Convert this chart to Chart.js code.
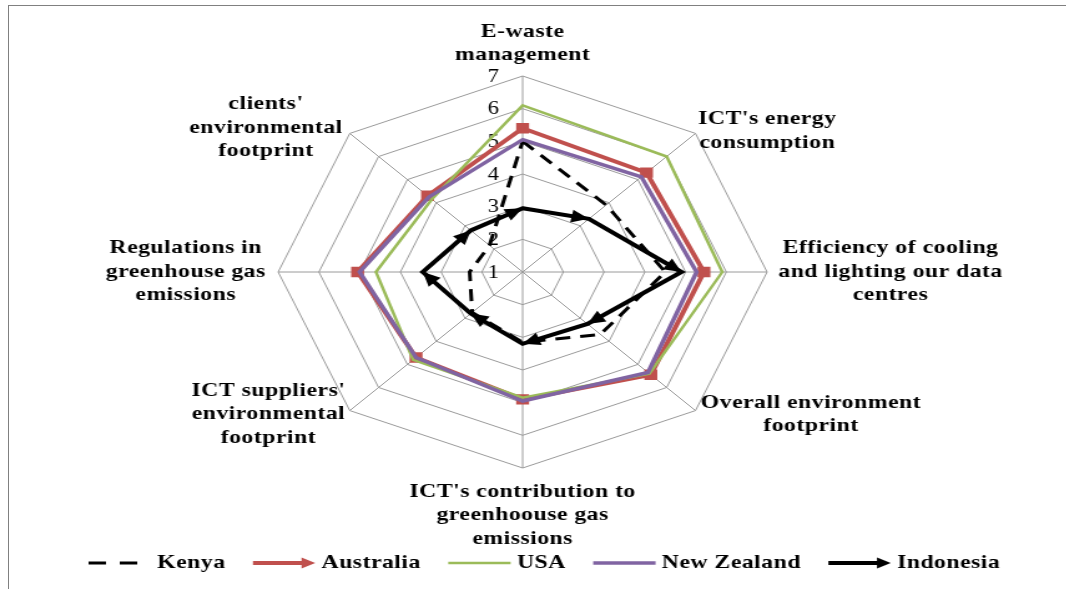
<!DOCTYPE html>
<html><head><meta charset="utf-8">
<script src="https://cdn.jsdelivr.net/npm/chart.js"></script>
<style>
html,body{margin:0;padding:0;background:#fff;overflow:hidden;}
#wrap{position:absolute;left:0;top:0;width:1066px;height:589px;overflow:hidden;background:#fff;}
#frame{position:absolute;left:8px;top:5px;width:1200px;height:800px;border-top:1px solid #808080;border-left:1px solid #808080;}
#c{position:absolute;left:0;top:0;transform-origin:0 0;transform:scaleX(1.2473);}
</style></head><body>
<div id="wrap"><div id="frame"></div><canvas id="c" width="855" height="589"></canvas></div>
<script>
const categories = [
  ['E-waste', 'management'],
  ["ICT's energy", 'consumption'],
  ['Efficiency of cooling', 'and lighting our data', 'centres'],
  ['Overall environment', 'footprint'],
  ["ICT's contribution to", 'greenhoouse gas', 'emissions'],
  ["ICT suppliers'", 'environmental', 'footprint'],
  ['Regulations in', 'greenhouse gas', 'emissions'],
  ["clients'", 'environmental', 'footprint']
];
const seriesNames = ['Kenya', 'Australia', 'USA', 'New Zealand', 'Indonesia'];
const kenya      = [5.0, 3.9, 4.5, 3.7, 3.15, 2.75, 2.3, 2.15];
const australia  = [5.4, 5.3, 5.45, 5.45, 4.9, 4.7, 5.05, 4.3];
const usa        = [6.1, 6.0, 5.9, 5.4, 4.85, 4.8, 4.6, 4.15];
const newZealand = [5.05, 5.12, 5.27, 5.35, 4.95, 4.7, 5.0, 4.25];
const indonesia  = [2.95, 3.3, 4.9, 3.25, 3.2, 2.8, 3.45, 2.8];
const tickLabels = ['1', '2', '3', '4', '5', '6', '7'];

const SERIF = '"Liberation Serif", "Times New Roman", serif';
const LABEL_FONT = 'bold 19px ' + SERIF;
const TICK_FONT = '18px ' + SERIF;
const LINE_H = 23.5;
const labelPads = [9, 3, 9, 6, 12, 5, 10, 8];

function arrowHead(ctx, x0, y0, x1, y1, len, half, color) {
  const a = Math.atan2(y1 - y0, x1 - x0);
  ctx.save();
  ctx.translate(x1, y1);
  ctx.rotate(a);
  ctx.fillStyle = color;
  ctx.beginPath();
  ctx.moveTo(0, 0);
  ctx.lineTo(-len, half);
  ctx.lineTo(-len, -half);
  ctx.closePath();
  ctx.fill();
  ctx.restore();
}

const decor = {
  id: 'decor',
  beforeDatasetsDraw(chart) {
    const s = chart.scales.r;
    const ctx = chart.ctx;
    ctx.save();
    ctx.font = TICK_FONT;
    ctx.fillStyle = '#000';
    ctx.textAlign = 'right';
    ctx.textBaseline = 'middle';
    s.ticks.forEach((t, i) => {
      const d = s.getDistanceFromCenterForValue(t.value);
      ctx.fillText(tickLabels[i] !== undefined ? tickLabels[i] : String(t.value), s.xCenter - 19, s.yCenter - d + 1);
    });
    ctx.restore();
  },
  afterDatasetsDraw(chart) {
    const ctx = chart.ctx;
    chart.data.datasets.forEach((ds, di) => {
      if (!ds.arrows) return;
      const pts = chart.getDatasetMeta(di).data;
      const n = pts.length;
      for (let i = 0; i < n; i++) {
        const p = pts[(i - 1 + n) % n], q = pts[i];
        arrowHead(ctx, p.x, p.y, q.x, q.y, 14, 6.5, ds.borderColor);
      }
    });
  },
  afterDraw(chart) {
    const s = chart.scales.r;
    const ctx = chart.ctx;
    ctx.save();
    ctx.font = LABEL_FONT;
    if ('letterSpacing' in ctx) ctx.letterSpacing = '0.4px';
    ctx.fillStyle = '#000';
    ctx.textBaseline = 'middle';
    ctx.textAlign = 'center';
    chart.data.labels.forEach((lines, i) => {
      const pos = s.getPointPosition(i, s.drawingArea + labelPads[i]);
      let deg = ((pos.angle + Math.PI / 2) * 180 / Math.PI) % 360;
      if (deg < 0) deg += 360;
      deg = Math.round(deg * 1000) / 1000;
      const w = Math.max(...lines.map(l => ctx.measureText(l).width));
      const h = lines.length * LINE_H;
      let cx, top;
      if (deg === 0) { cx = pos.x; top = pos.y - h; }
      else if (deg === 180) { cx = pos.x; top = pos.y; }
      else if (deg < 180) { cx = pos.x + w / 2; top = pos.y - h / 2; }
      else { cx = pos.x - w / 2; top = pos.y - h / 2; }
      lines.forEach((l, k) => ctx.fillText(l, cx, top + LINE_H * k + LINE_H / 2));
    });
    // legend
    const y = 563;
    let x = 71;
    const symLen = 50;
    chart.data.datasets.forEach(ds => {
      ctx.save();
      ctx.strokeStyle = ds.borderColor;
      ctx.lineWidth = ds.borderWidth;
      ctx.setLineDash(ds.legendDash || []);
      ctx.beginPath();
      ctx.moveTo(x, y);
      ctx.lineTo(x + (ds.legendArrow ? symLen - 8 : symLen), y);
      ctx.stroke();
      ctx.restore();
      if (ds.legendArrow) arrowHead(ctx, x, y, x + symLen, y, 11, 5.5, ds.borderColor);
      ctx.textAlign = 'left';
      ctx.fillStyle = '#000';
      ctx.fillText(ds.label, x + symLen + 5, y);
      x += symLen + 5 + ctx.measureText(ds.label).width + 22;
    });
    ctx.restore();
  }
};

const baseLine = { fill: false, tension: 0, pointRadius: 0, pointHoverRadius: 0, backgroundColor: 'transparent' };

new Chart(document.getElementById('c'), {
  type: 'radar',
  data: {
    labels: categories,
    datasets: [
      Object.assign({}, baseLine, { label: seriesNames[0], data: kenya, borderColor: '#000000', borderWidth: 3, borderDash: [12, 8], legendDash: [14, 11], order: 5 }),
      Object.assign({}, baseLine, { label: seriesNames[1], data: australia, borderColor: '#C0504D', borderWidth: 4, pointRadius: 4.5, pointStyle: 'rect', pointBackgroundColor: '#C0504D', pointBorderColor: '#C0504D', legendArrow: true, order: 4 }),
      Object.assign({}, baseLine, { label: seriesNames[2], data: usa, borderColor: '#9BBB59', borderWidth: 2.5, order: 3 }),
      Object.assign({}, baseLine, { label: seriesNames[3], data: newZealand, borderColor: '#8064A2', borderWidth: 3.5, order: 2 }),
      Object.assign({}, baseLine, { label: seriesNames[4], data: indonesia, borderColor: '#000000', borderWidth: 4, arrows: true, legendArrow: true, order: 1 })
    ]
  },
  options: {
    responsive: false,
    animation: false,
    devicePixelRatio: 1,
    layout: { padding: { top: 76, bottom: 121, left: 169, right: 186 } },
    plugins: { legend: { display: false }, tooltip: { enabled: false }, title: { display: false } },
    scales: {
      r: {
        min: 1, max: 7,
        ticks: { stepSize: 1, display: false },
        grid: { color: '#9a9a9a', lineWidth: 1 },
        angleLines: { color: '#9a9a9a', lineWidth: 1 },
        pointLabels: { display: false }
      }
    }
  },
  plugins: [decor]
});
</script>
</body></html>
